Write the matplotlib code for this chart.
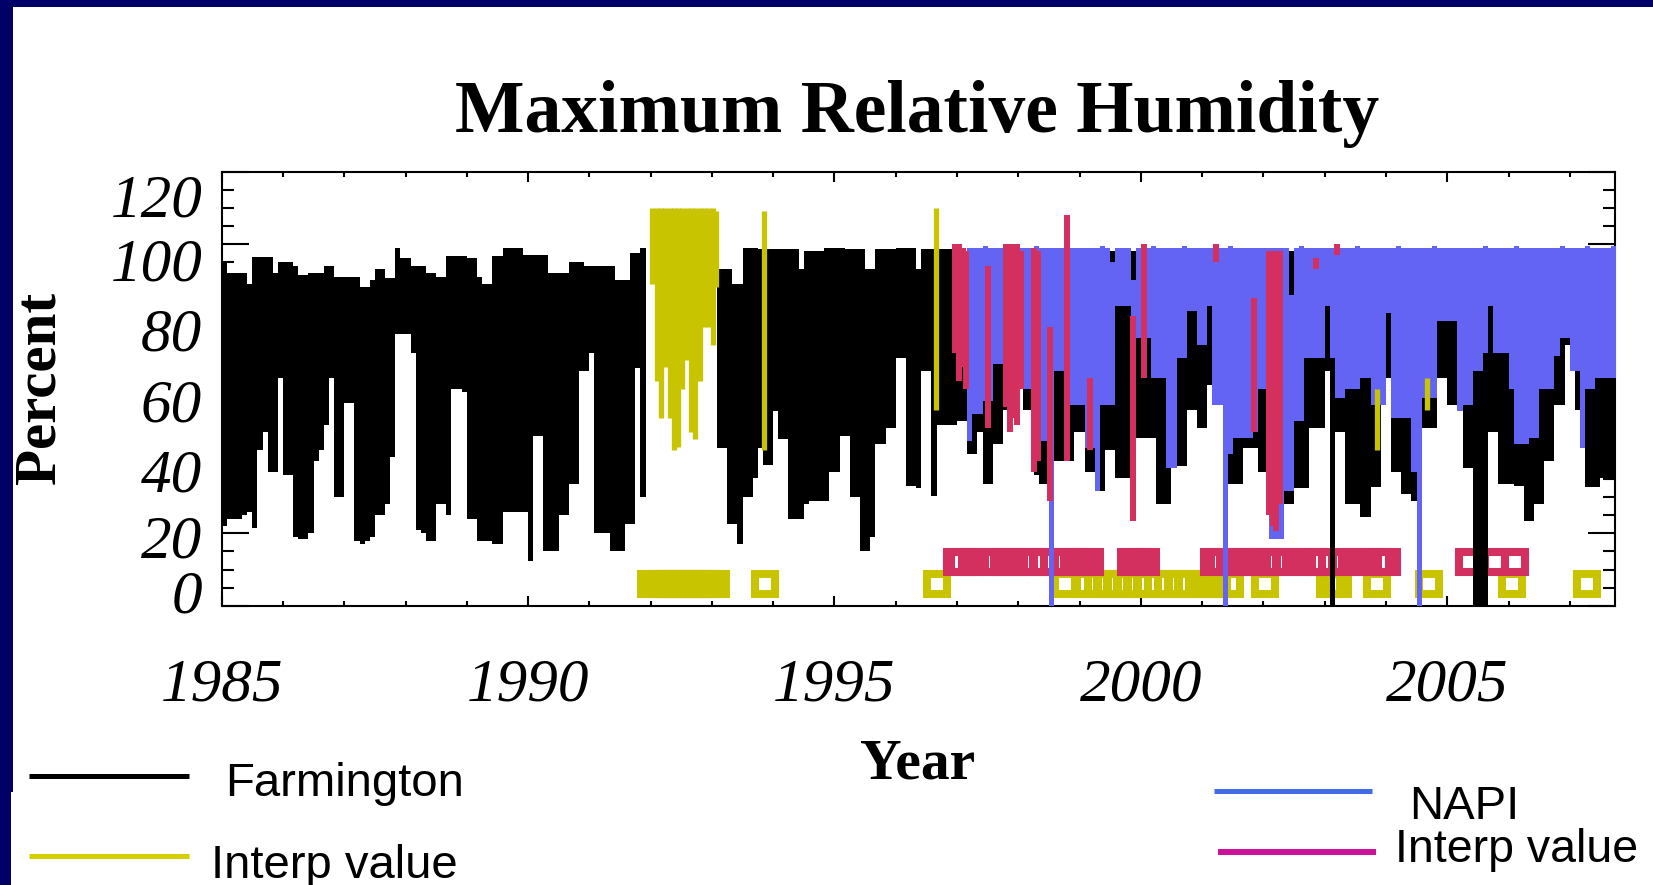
import numpy as np
import matplotlib
matplotlib.use("Agg")
import matplotlib.pyplot as plt
import matplotlib.transforms as mtransforms
from matplotlib.lines import Line2D
from matplotlib.patches import Rectangle

nan = np.nan

# Farmington daily max RH, summarised as monthly low / high (Jan 1985 .. Sep 2007)
farm_low = [
    22, 24, 24, 24, 25, 26, 21.6, 43, 48, 37, 37, 63,          # 1985
    36, 36, 19, 18.5, 18.5, 20, 40, 43, 50, 63, 30, 30,        # 1986
    56, 56, 18, 17, 18, 19, 25, 25, 28, 41, 75, 75,            # 1987
    75, 70, 21, 20, 18, 18, 28, 28, 25, 60, 60, 59,            # 1988
    24, 24, 18, 18, 18, 17, 17, 26, 26, 26, 26, 26,            # 1989
    12.4, 47, 47, 15, 15, 15, 25, 25, 33.6, 33.6, 65, 65,      # 1990
    70, 20, 20, 20, 15, 15, 15, 22.5, 22.5, 65.8, 30, 30,      # 1991
    nan, nan, nan, nan, nan, nan, nan, nan, nan, nan, nan, nan,  # 1992
    nan, 43.7, 43.7, 22.5, 22.5, 17, 30, 30, 35.4, 43.7, 39, 39,  # 1993
    53.8, 46, 46, 24, 24, 24, 28, 29, 29, 29, 29, 37,          # 1994
    37, 47, 47, 30, 30, 15, 15, 19, 44.6, 44.6, 49, 49,        # 1995
    68.5, 68.5, 33, 33, 32.6, 65, 65, 30.3, 50, 50, 50, 50,    # 1996
    51, 51, 42, 42, 48, 33.6, 33.6, 44.6, 44.6, 54, 54, 60,    # 1997
    60, 54, 54, 36, 33.6, 33.6, 29, 40, 40, 40, 40, 48,        # 1998
    48, 37, 37, 31.7, 31.7, 43, 43, 35.4, 35.4, 35.4, 23.4, 46.5,  # 1999
    46.5, 46.5, 46.5, 28, 28, 28, 38.6, 38.6, 38.6, 54, 54, 49,    # 2000
    49, 61, 61, 61, 35.4, 33.6, 33.6, 33.6, 43.7, 43.7, 43.7, 37,  # 2001
    37, 20, 20, 20, 28, 28, 32.6, 32.6, 32.6, 49, 49, 49,      # 2002
    65, 0, 48, 48, 28, 28, 28, 24.4, 24.4, 32.7, 32.7, 63,     # 2003
    63, 37, 37, 30.9, 30.9, 29, 29, 49, 49, 49, 63, 63,        # 2004
    55.6, 55.6, 55.6, 38, 38, 0, 0, 0, 48, 48, 33.6, 33.6,     # 2005
    33.6, 33, 33, 23.4, 23.4, 28, 28, 40, 40, 55.6, 55.6, 72,  # 2006
    72, 54, 54, 32.7, 32.7, 32.7, 35.4, 35.4, 35.4,            # 2007
]
farm_high = [
    95, 92, 92, 92, 92, 89, 96.5, 96.5, 96.5, 96.5, 92, 95,
    95, 95, 94, 91.5, 91.5, 92, 92, 92, 94, 94, 91, 91,
    91, 91, 91, 88, 88, 90, 93, 93, 90.5, 90.5, 99, 96,
    96, 94, 94, 94, 92, 92, 91, 91, 96.6, 96.6, 96.6, 96.6,
    96, 96, 91, 89, 89, 96.6, 96.6, 99, 99, 99, 99, 97,
    97, 97, 97, 97, 92, 92, 92, 92, 95, 95, 95, 94,
    94, 94, 94, 94, 94, 90, 90, 90, 97.6, 97.6, 99, 99,
    nan, nan, nan, nan, nan, nan, nan, nan, nan, nan, nan, nan,
    nan, 93, 93, 93, 89, 89, 99, 99, 99, 98.5, 98.5, 98.5,
    98.5, 98.5, 98.5, 98.5, 98.5, 93, 98, 98, 98, 98, 99, 99,
    99, 99, 98.5, 98.5, 98.5, 98.5, 93, 93, 98.5, 98.5, 98.5, 98.5,
    99, 99, 99, 99, 93, 98.5, 98.5, 98.5, 98.5, 98.5, 98.5, 98.5,
    98, 98, 97, 98, 98, 97, 98, 98, 97, 98, 98, 98,
    98, 97, 98, 98, 98, 98, 97, 98, 98, 98, 97, 98,
    98, 98, 98, 97, 98, 98, 98, 98, 97, 98, 98, 98,
    97, 98, 98, 98, 98, 97, 98, 98, 98, 98, 98, 97,
    98, 98, 97, 98, 98, 98, 98, 97, 98, 98, 98, 98,
    98, 97, 98, 98, 98, 98, 98, 98, 97, 98, 98, 98,
    98, 98, 98, 97, 98, 98, 98, 98, 98, 97, 98, 98,
    97, 98, 98, 98, 98, 98, 97, 98, 98, 98, 98, 98,
    98, 98, 98, 98, 97, 98, 98, 98, 98, 98, 97, 98,
    98, 97, 98, 98, 98, 98, 98, 97, 98, 98, 98, 98,
    98, 98, 98, 97, 98, 98, 98, 98, 98,
]

# NAPI monthly low / high (Jan 1997 .. Sep 2007)
napi_low = [
    nan, nan, 45.5, 53, 53, 56.5, 56.5, 66.7, 66.7, 66.7, 60, 60,   # 1997
    60, 60, 60, 63, 45.5, 45.5, 0, 65, 65, 65, 55.6, 55.6,          # 1998
    55.6, 43.7, 43.7, 31.7, 55.6, 55.6, 55.6, 83, 83, 83, 41.9, 74, # 1999
    74, 74, 63, 63, 63, 38, 38, 68.5, 68.5, 81.4, 81.4, 72,         # 2000
    72, 83, 55.6, 55.6, 0, 41.9, 46.5, 46.5, 46.5, 46.5, 48, 60,    # 2001
    60, 18.4, 18.4, 18.4, 31.7, 31.7, 51, 51, 68.5, 68.5, 68.5, 68.5,  # 2002
    83, 68.5, 57.5, 57.5, 60, 60, 60, 63, 63, 55.6, 55.6, 55.6,     # 2003
    81, 52, 52, 52, 52, 37, 0, 57.5, 57.5, 57.5, 78.6, 78.6,        # 2004
    78.6, 78.6, 53.8, 55.6, 55.6, 65, 65, 70, 83, 70, 70, 70,       # 2005
    60, 44.6, 44.6, 44.6, 46.5, 46.5, 60, 60, 60, 69, 74, 74,       # 2006
    65, 65, 43.7, 60, 60, 63, 63, 63, 63,                           # 2007
]
napi_high = [
    nan, nan, 99, 99, 99, 99.5, 99, 99, 99, 99, 99.5, 99,
    99, 99, 99, 99.5, 99, 99, 99, 99, 99, 99.5, 99, 99,
    99, 99, 99, 99, 99.5, 99, 95, 99, 99, 99, 90, 99,
    99, 99, 99.5, 99, 99, 99, 99, 99, 99.5, 99, 99, 99,
    99, 99, 99, 99, 99, 99.5, 99, 99, 99, 99, 99, 99,
    99, 99, 99, 99, 99, 86, 99, 99.5, 99, 99, 99, 99,
    99, 99, 99, 99, 99, 99, 99.5, 99, 99, 99, 99, 99,
    99, 99, 99.5, 99, 99, 99, 99, 99, 99, 99.5, 99, 99,
    99, 99, 99, 99, 99, 99, 99, 99.5, 99, 99, 99, 99,
    99, 99.5, 99, 99, 99, 99, 99, 99, 99, 99, 99.5, 99,
    99, 99, 99, 99.5, 99, 99, 99, 99, 99.5,
]

# interpolated Farmington values (yellow) as vertical spans
farm_interp_t = [1992.03, 1992.10, 1992.17, 1992.24, 1992.31, 1992.38, 1992.45,
                 1992.52, 1992.59, 1992.66, 1992.73, 1992.80, 1992.87, 1992.94,
                 1993.01, 1993.07, 1993.85, 1996.65, 2003.85, 2004.67]
farm_interp_hi = [110, 110, 110, 110, 110, 110, 110, 110, 110, 110, 110, 110,
                  110, 110, 110, 109, 109, 110, 60, 63]
farm_interp_lo = [89, 62, 52, 66, 52, 43, 44, 60, 68, 48, 46, 62, 77, 77, 72,
                  88, 43, 54, 43, 54]

# interpolated NAPI values (magenta)
napi_interp_t = [1996.97, 1997.03, 1997.09, 1997.15, 1997.50, 1997.80, 1997.86,
                 1997.92, 1997.98, 1998.04, 1998.26, 1998.32, 1998.52, 1998.80,
                 1999.17, 1999.87, 2000.05, 2001.22, 2001.85, 2002.09, 2002.15,
                 2002.21, 2002.27, 2002.86, 2003.20]
napi_interp_hi = [100, 100, 99, 98, 94, 100, 100, 100, 100, 98, 99, 98, 77,
                  108, 63, 80, 100, 100, 85, 98, 98, 98, 98, 96, 100]
napi_interp_lo = [70, 62, 66, 60, 49, 55, 48, 52, 50, 60, 37, 40, 29, 40, 43,
                  23.5, 63, 95, 48, 25, 22, 20.7, 28, 93, 97]

# dates flagged as interpolated
farm_flag_t = [1992.01, 1992.08, 1992.15, 1992.22, 1992.29, 1992.36, 1992.43,
               1992.50, 1992.57, 1992.64, 1992.71, 1992.78, 1992.85, 1992.92,
               1992.99, 1993.06, 1993.86, 1996.67, 1998.77, 1999.12, 1999.30,
               1999.47, 1999.61, 1999.78, 1999.96, 2000.11, 2000.28, 2000.45,
               2000.62, 2000.79, 2000.96, 2001.10, 2001.24, 2001.45, 2002.03,
               2003.08, 2003.22, 2003.85, 2004.71, 2006.05, 2007.28]
napi_flag_t = [1997.00, 1997.06, 1997.25, 1997.44, 1997.62, 1997.80, 1997.90,
               1998.08, 1998.25, 1998.42, 1998.58, 1998.77, 1998.92, 1999.06,
               1999.17, 1999.84, 1999.96, 2000.08, 2001.20, 2001.30, 2001.45,
               2001.62, 2001.76, 2001.90, 2002.05, 2002.20, 2002.38, 2002.58,
               2002.79, 2002.95, 2003.12, 2003.30, 2003.50, 2003.71, 2003.88,
               2004.02, 2005.36, 2005.78, 2006.10]
farm_flag_y = 6
napi_flag_y = 12

year_ticks = [1985, 1990, 1995, 2000, 2005]
pct_ticks = [0, 20, 40, 60, 80, 100, 120]

BLACK = "black"
YELLOW = "#c9c400"
BLUE = "#6464f4"
CRIMSON = "#d3305f"
NAVY = "#000066"


def month_steps(start, vals):
    v = np.asarray(vals, dtype=float)
    x = start + np.arange(len(v) + 1) / 12.0
    return x, np.append(v, v[-1])


plt.rcParams["font.family"] = "Liberation Serif"

fig = plt.figure(figsize=(16.53, 8.85), dpi=100)
fig.patch.set_facecolor("white")

# slide frame
fig.patches.append(Rectangle((0, 1 - 7 / 885), 1, 7 / 885, transform=fig.transFigure,
                             facecolor=NAVY, edgecolor="none", zorder=0))
fig.patches.append(Rectangle((0, 1 - 792 / 885), 13 / 1653, 792 / 885,
                             transform=fig.transFigure, facecolor=NAVY,
                             edgecolor="none", zorder=0))
fig.patches.append(Rectangle((0, 0), 11 / 1653, 1 - 792 / 885,
                             transform=fig.transFigure, facecolor=NAVY,
                             edgecolor="none", zorder=0))

ax = fig.add_axes([0.1341, 0.3156, 0.8430, 0.4904])

# flags
ax.plot(farm_flag_t, [farm_flag_y] * len(farm_flag_t), linestyle="none", marker="s",
        ms=14.4, mew=5.8, mec=YELLOW, mfc="none", zorder=1.7)
ax.plot(napi_flag_t, [napi_flag_y] * len(napi_flag_t), linestyle="none", marker="s",
        ms=14.4, mew=5.8, mec=CRIMSON, mfc="none", zorder=1.8)

# Farmington
x, lo = month_steps(1985.0, farm_low)
_, hi = month_steps(1985.0, farm_high)
ax.fill_between(x, lo, hi, step="post", color=BLACK, lw=0, zorder=2)

# NAPI
x, lo = month_steps(1997.0, napi_low)
_, hi = month_steps(1997.0, napi_high)
ax.fill_between(x, lo, hi, step="post", color=BLUE, lw=0, zorder=3)

ax.vlines(napi_interp_t, napi_interp_lo, napi_interp_hi, color=CRIMSON, lw=4.3, zorder=4)
ax.vlines(farm_interp_t, farm_interp_lo, farm_interp_hi, color=YELLOW, lw=3.8, zorder=4)

ax.set_xlim(1985, 2007.74)
ax.set_ylim(0, 120)

for s in ax.spines.values():
    s.set_linewidth(1.5)

ax.set_xticks(year_ticks)
ax.set_xticks(np.arange(1985, 2008), minor=True)
ax.set_yticks(pct_ticks)
ax.set_yticks(np.arange(0, 121, 5), minor=True)
ax.tick_params(axis="both", which="both", direction="in", top=True, right=True, width=1.5)
ax.tick_params(axis="x", which="major", length=7.5, pad=38, labelsize=44)
ax.tick_params(axis="x", which="minor", length=3.6)
ax.tick_params(axis="y", which="major", length=19.5, pad=14, labelsize=44)
ax.tick_params(axis="y", which="minor", length=8.6)
ax.set_xticklabels([str(y) for y in year_ticks], fontstyle="italic")
ax.set_yticklabels([str(p) for p in pct_ticks], fontstyle="italic")

# the y labels sit a little off their ticks in the original
shift_px = [-14, 3, 9, 12, 13, 15, 24]
for lab, d in zip(ax.get_yticklabels(), shift_px):
    lab.set_transform(lab.get_transform() +
                      mtransforms.ScaledTranslation(0, -d / 100, fig.dpi_scale_trans))

fig.text(0.5548, 0.871, "Maximum Relative Humidity", ha="center", va="center",
         fontsize=53, fontweight="bold")
fig.text(0.5548, 0.1367, "Year", ha="center", va="center", fontsize=41.5,
         fontweight="bold")
fig.text(0.0242, 0.5616, "Percent", ha="center", va="center", rotation=90,
         fontsize=42.5, fontweight="bold")

# legend drawn freely on the slide
legend_lines = [
    (29, 189, 776, BLACK, 3.6),
    (29, 189, 856, "#d4d000", 3.6),
    (1214, 1372, 791, "#4169e8", 3.6),
    (1218, 1376, 852, "#cc1199", 4.3),
]
for x0, x1, y, c, lw in legend_lines:
    fig.add_artist(Line2D([x0 / 1653, x1 / 1653], [1 - y / 885, 1 - y / 885],
                          transform=fig.transFigure, color=c, lw=lw,
                          solid_capstyle="butt"))

sans = "Liberation Sans"
fig.text(225 / 1653, 1 - 796 / 885, "Farmington", fontsize=34, family=sans, va="baseline")
fig.text(211 / 1653, 1 - 878 / 885, "Interp value", fontsize=34, family=sans, va="baseline")
fig.text(1409 / 1653, 1 - 819 / 885, "NAPI", fontsize=34, family=sans, va="baseline")
fig.text(1395 / 1653, 1 - 862 / 885, "Interp value", fontsize=33.5, family=sans, va="baseline")

fig.savefig("out.png", dpi=100, facecolor="white")
